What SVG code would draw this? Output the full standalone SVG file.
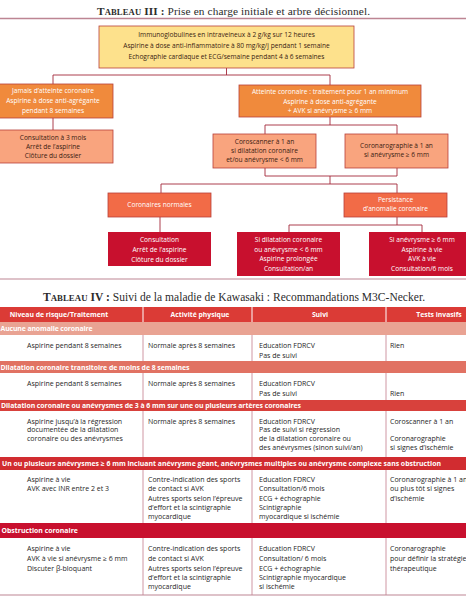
<svg xmlns="http://www.w3.org/2000/svg" width="466" height="600" viewBox="0 0 466 600">
<style>
.ttl{font-family:"Liberation Serif","DejaVu Serif",serif;fill:#2b2b2b;text-anchor:middle}
.f{font-family:"Open Sans","Noto Sans",sans-serif;font-size:6.6px;text-anchor:middle}
.w{fill:#ffffff}
.d{fill:#3a1c12}
.bx{stroke:#b8403a;stroke-width:0.8}
.conn line,.conn path{stroke:#a3283a;stroke-width:0.9;fill:none}
.tb{font-family:"Open Sans","Noto Sans",sans-serif;font-size:7px;fill:#262626}
.hd{font-family:"Open Sans","Noto Sans",sans-serif;font-size:6.8px;font-weight:bold;fill:#ffffff;text-anchor:middle}
.sec{font-family:"Open Sans","Noto Sans",sans-serif;font-size:6.9px;font-weight:bold;fill:#ffffff}
.sep{stroke:#c98a98;stroke-width:0.9}
.rule{stroke:#bd8593;fill:none}
</style>
<rect width="466" height="600" fill="#ffffff"/>

<!-- Title III -->
<text class="ttl" x="233.5" y="14.8" font-size="11.3" textLength="273" lengthAdjust="spacing"><tspan font-weight="bold">T</tspan><tspan font-weight="bold" font-size="8.6">ABLEAU</tspan><tspan font-weight="bold"> III :</tspan> Prise en charge initiale et arbre décisionnel.</text>
<line class="rule" x1="0" y1="18.5" x2="466" y2="18.5" stroke-width="1.5"/>

<g class="conn" id="connectors">
<path d="M226.5 68 V75 M53 75 H330 M53 75 V84 M330 75 V85"/>
<path d="M53 118 V130"/>
<path d="M330 117 V125 M265 125 H397 M265 125 V134 M397 125 V134"/>
<path d="M265 168 V176 M397 168 V176 M265 176 H397 M330 176 V184 M161 184 H397 M161 184 V193 M397 184 V193"/>
<path d="M160 217 V232"/>
<path d="M397 217 V225 M289 225 H422 M289 225 V232 M422 225 V232"/>
</g>

<g id="node-init">
<rect class="bx" x="99" y="26" width="255" height="42" fill="#fde18c" stroke="#a8323a"/>
<text class="f d" x="226.5" y="36.5">Immunoglobulines en intraveineux à 2 g/kg sur 12 heures</text>
<text class="f d" x="226.5" y="47.5">Aspirine à dose anti-inflammatoire à 80 mg/kg/j pendant 1 semaine</text>
<text class="f d" x="226.5" y="58.5">Echographie cardiaque et ECG/semaine pendant 4 à 6 semaines</text>
</g>

<g id="node-jamais">
<rect class="bx" x="-7" y="84" width="120" height="34" fill="#f08a3c"/>
<text class="f w" x="53" y="93">Jamais d’atteinte coronaire</text>
<text class="f w" x="53" y="103">Aspirine à dose anti-agrégante</text>
<text class="f w" x="53" y="112.5">pendant 8 semaines</text>
</g>

<g id="node-consult3">
<rect class="bx" x="-7" y="130" width="120" height="33" fill="#f9a47e"/>
<text class="f d" x="53" y="139.5">Consultation à 3 mois</text>
<text class="f d" x="53" y="148.7">Arrêt de l’aspirine</text>
<text class="f d" x="53" y="158">Clôture du dossier</text>
</g>

<g id="node-atteinte">
<rect class="bx" x="239" y="85" width="182" height="32" fill="#f08a3c"/>
<text class="f w" x="330" y="94.3">Atteinte coronaire : traitement pour 1 an minimum</text>
<text class="f w" x="330" y="103.5">Aspirine à dose anti-agrégante</text>
<text class="f w" x="330" y="112.5">+ AVK si anévrysme ≥ 6 mm</text>
</g>

<g id="node-coroscanner">
<rect class="bx" x="213" y="134" width="103" height="34" fill="#f9a47e"/>
<text class="f d" x="264.5" y="143.5">Coroscanner à 1 an</text>
<text class="f d" x="264.5" y="152.7">si dilatation coronaire</text>
<text class="f d" x="264.5" y="162">et/ou anévrysme &lt; 6 mm</text>
</g>

<g id="node-coronaro">
<rect class="bx" x="345" y="134" width="103" height="34" fill="#f9a47e"/>
<text class="f d" x="396.5" y="147.5">Coronarographie à 1 an</text>
<text class="f d" x="396.5" y="157.3">si anévrysme ≥ 6 mm</text>
</g>

<g id="node-normales">
<rect class="bx" x="108" y="193" width="103" height="24" fill="#f26b47"/>
<text class="f w" x="159.5" y="206.8">Coronaires normales</text>
</g>

<g id="node-persistance">
<rect class="bx" x="344" y="193" width="103" height="24" fill="#f26b47"/>
<text class="f w" x="395.5" y="201.5">Persistance</text>
<text class="f w" x="395.5" y="211.3">d’anomalie coronaire</text>
</g>

<g id="node-consult-fin">
<rect x="108" y="232" width="103" height="34" fill="#c8102e"/>
<text class="f w" x="159.5" y="241.6">Consultation</text>
<text class="f w" x="159.5" y="251.6">Arrêt de l’aspirine</text>
<text class="f w" x="159.5" y="261.6">Clôture du dossier</text>
</g>

<g id="node-dilatation">
<rect x="237" y="232" width="103" height="44" fill="#c8102e"/>
<text class="f w" x="288.5" y="242.3">Si dilatation coronaire</text>
<text class="f w" x="288.5" y="251.6">ou anévrysme &lt; 6 mm</text>
<text class="f w" x="288.5" y="261.3">Aspirine prolongée</text>
<text class="f w" x="288.5" y="270.6">Consultation/an</text>
</g>

<g id="node-anevrysme">
<rect x="369" y="232" width="106" height="44" fill="#c8102e"/>
<text class="f w" x="422" y="242.3">Si anévrysme ≥ 6 mm</text>
<text class="f w" x="422" y="251.6">Aspirine à vie</text>
<text class="f w" x="422" y="261.3">AVK à vie</text>
<text class="f w" x="422" y="270.6">Consultation/6 mois</text>
</g>

<line class="rule" x1="0" y1="279" x2="466" y2="279" stroke-width="1"/>

<!-- Title IV -->
<text class="ttl" x="234" y="300.8" font-size="11.5" textLength="382" lengthAdjust="spacing"><tspan font-weight="bold">T</tspan><tspan font-weight="bold" font-size="8.8">ABLEAU</tspan><tspan font-weight="bold"> IV :</tspan> Suivi de la maladie de Kawasaki : Recommandations M3C-Necker.</text>

<g id="table">
<rect x="0" y="307" width="466" height="15" fill="#db3b36"/>
<line x1="143" y1="307" x2="143" y2="322" stroke="#ffffff" stroke-width="1"/>
<line x1="252" y1="307" x2="252" y2="322" stroke="#ffffff" stroke-width="1"/>
<line x1="386" y1="307" x2="386" y2="322" stroke="#ffffff" stroke-width="1"/>
<text class="hd" x="59" y="317">Niveau de risque/Traitement</text>
<text class="hd" x="200" y="317">Activité physique</text>
<text class="hd" x="320" y="317">Suivi</text>
<text class="hd" x="439" y="317">Tests invasifs</text>

<rect x="0" y="322" width="466" height="13" fill="#e9a393"/>
<text class="sec" x="0.5" y="331" textLength="92" lengthAdjust="spacing">Aucune anomalie coronaire</text>
<rect x="0" y="361" width="466" height="12" fill="#e17263"/>
<text class="sec" x="0.5" y="369.5" textLength="189" lengthAdjust="spacing">Dilatation coronaire transitoire de moins de 8 semaines</text>
<rect x="0" y="400" width="466" height="11" fill="#d8413c"/>
<text class="sec" x="1" y="408" textLength="300" lengthAdjust="spacing">Dilatation coronaire ou anévrysmes de 3 à 6 mm sur une ou plusieurs artères coronaires</text>
<rect x="0" y="457" width="466" height="13" fill="#d12c30"/>
<text class="sec" x="2" y="466" textLength="439" lengthAdjust="spacing">Un ou plusieurs anévrysmes ≥ 6 mm incluant anévrysme géant, anévrysmes multiples ou anévrysme complexe sans obstruction</text>
<rect x="0" y="523" width="466" height="15" fill="#c8102e"/>
<text class="sec" x="1.5" y="533">Obstruction coronaire</text>

<g class="sep">
<line x1="143" y1="335" x2="143" y2="361"/><line x1="252" y1="335" x2="252" y2="361"/><line x1="386" y1="335" x2="386" y2="361"/>
<line x1="143" y1="373" x2="143" y2="400"/><line x1="252" y1="373" x2="252" y2="400"/><line x1="386" y1="373" x2="386" y2="400"/>
<line x1="143" y1="411" x2="143" y2="457"/><line x1="252" y1="411" x2="252" y2="457"/><line x1="386" y1="411" x2="386" y2="457"/>
<line x1="143" y1="470" x2="143" y2="523"/><line x1="252" y1="470" x2="252" y2="523"/><line x1="386" y1="470" x2="386" y2="523"/>
<line x1="143" y1="538" x2="143" y2="595"/><line x1="252" y1="538" x2="252" y2="595"/><line x1="386" y1="538" x2="386" y2="595"/>
</g>
<line class="rule" x1="0" y1="595" x2="466" y2="595" stroke-width="1.2"/>

<!-- Row 1 -->
<text class="tb" x="27" y="347.5">Aspirine pendant 8 semaines</text>
<text class="tb" x="148" y="347.5">Normale après 8 semaines</text>
<text class="tb" x="259" y="347.5">Education FDRCV</text>
<text class="tb" x="259" y="357.5">Pas de suivi</text>
<text class="tb" x="390" y="347.5">Rien</text>

<!-- Row 2 -->
<text class="tb" x="27" y="385.5">Aspirine pendant 8 semaines</text>
<text class="tb" x="148" y="385.5">Normale après 8 semaines</text>
<text class="tb" x="259" y="385.5">Education FDRCV</text>
<text class="tb" x="259" y="395.5">Pas de suivi</text>
<text class="tb" x="390" y="396">Rien</text>

<!-- Row 3 -->
<text class="tb" x="27" y="423.5">Aspirine jusqu’à la régression</text>
<text class="tb" x="27" y="432.2">documentée de la dilatation</text>
<text class="tb" x="27" y="440.9">coronaire ou des anévrysmes</text>
<text class="tb" x="148" y="423.5">Normale après 8 semaines</text>
<text class="tb" x="259" y="423.5">Education FDRCV</text>
<text class="tb" x="259" y="432.2">Pas de suivi si régression</text>
<text class="tb" x="259" y="440.9">de la dilatation coronaire ou</text>
<text class="tb" x="259" y="449.6">des anévrysmes (sinon suivi/an)</text>
<text class="tb" x="390" y="423.5">Coroscanner à 1 an</text>
<text class="tb" x="390" y="440.9">Coronarographie</text>
<text class="tb" x="390" y="449.6">si signes d’ischémie</text>

<!-- Row 4 -->
<text class="tb" x="27" y="482">Aspirine à vie</text>
<text class="tb" x="27" y="491.3">AVK avec INR entre 2 et 3</text>
<text class="tb" x="148" y="482">Contre-indication des sports</text>
<text class="tb" x="148" y="491.3">de contact si AVK</text>
<text class="tb" x="148" y="500.5">Autres sports selon l’épreuve</text>
<text class="tb" x="148" y="509.6">d’effort et la scintigraphie</text>
<text class="tb" x="148" y="519">myocardique</text>
<text class="tb" x="259" y="482">Education FDRCV</text>
<text class="tb" x="259" y="491.3">Consultation/6 mois</text>
<text class="tb" x="259" y="500.5">ECG + échographie</text>
<text class="tb" x="259" y="509.6">Scintigraphie</text>
<text class="tb" x="259" y="519">myocardique si ischémie</text>
<text class="tb" x="390" y="482">Coronarographie à 1 an</text>
<text class="tb" x="390" y="491.3">ou plus tôt si signes</text>
<text class="tb" x="390" y="500.5">d’ischémie</text>

<!-- Row 5 -->
<text class="tb" x="27" y="550.8">Aspirine à vie</text>
<text class="tb" x="27" y="560.8">AVK à vie si anévrysme ≥ 6 mm</text>
<text class="tb" x="27" y="570.8">Discuter β-bloquant</text>
<text class="tb" x="148" y="550.8">Contre-indication des sports</text>
<text class="tb" x="148" y="560.8">de contact si AVK</text>
<text class="tb" x="148" y="570.8">Autres sports selon l’épreuve</text>
<text class="tb" x="148" y="580.2">d’effort et la scintigraphie</text>
<text class="tb" x="148" y="589.2">myocardique</text>
<text class="tb" x="259" y="550.8">Education FDRCV</text>
<text class="tb" x="259" y="560.8">Consultation/ 6 mois</text>
<text class="tb" x="259" y="570.8">ECG + échographie</text>
<text class="tb" x="259" y="580.2">Scintigraphie myocardique</text>
<text class="tb" x="259" y="589.2">si ischémie</text>
<text class="tb" x="390" y="550.8">Coronarographie</text>
<text class="tb" x="390" y="560.8">pour définir la stratégie</text>
<text class="tb" x="390" y="570.8">thérapeutique</text>
</g>
</svg>
